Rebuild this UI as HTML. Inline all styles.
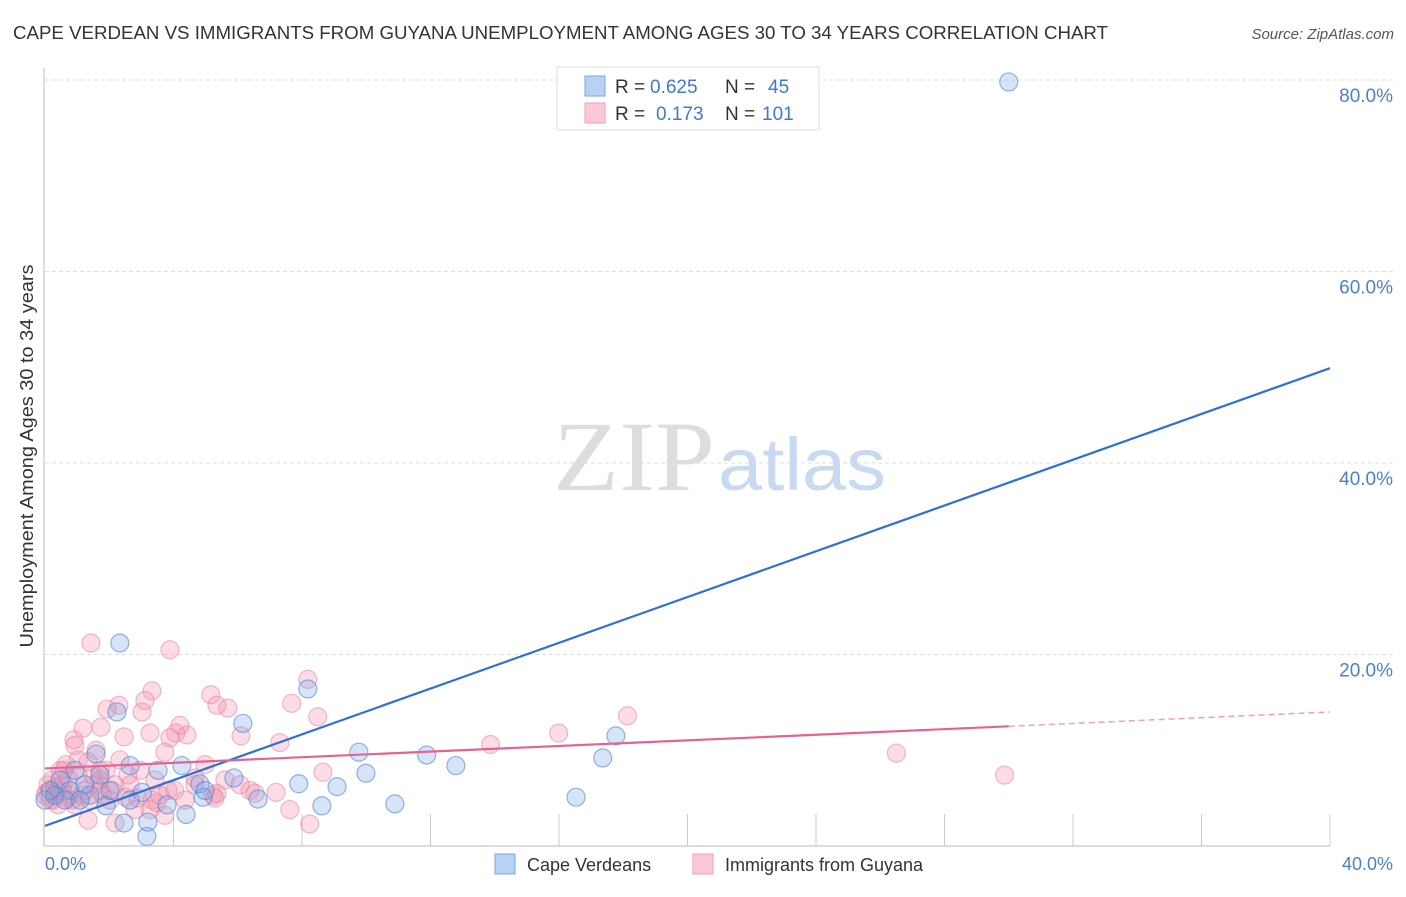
<!DOCTYPE html>
<html><head><meta charset="utf-8"><style>
body{margin:0;background:#fff;font-family:"Liberation Sans",sans-serif}
</style></head><body>
<svg width="1406" height="892" xmlns="http://www.w3.org/2000/svg" id="svg">
<text x="13" y="39" font-size="18" fill="#333" textLength="1095" lengthAdjust="spacingAndGlyphs">CAPE VERDEAN VS IMMIGRANTS FROM GUYANA UNEMPLOYMENT AMONG AGES 30 TO 34 YEARS CORRELATION CHART</text>
<text x="1394" y="39" font-size="15" fill="#555" font-style="italic" text-anchor="end">Source: ZipAtlas.com</text>
<text x="553" y="490" font-size="100" fill="#ddd" font-family="Liberation Serif,serif" textLength="162" lengthAdjust="spacingAndGlyphs">ZIP</text>
<text x="718" y="490" font-size="74" fill="#c8daf2" textLength="168" lengthAdjust="spacingAndGlyphs">atlas</text>
<text transform="translate(33,456) rotate(-90)" font-size="18" fill="#333" text-anchor="middle" textLength="383" lengthAdjust="spacingAndGlyphs">Unemployment Among Ages 30 to 34 years</text>
<g id="grid"></g><g id="pts"></g><g id="lines"></g>
<line x1="44" y1="68" x2="44" y2="846" stroke="#bbb"/>
<line x1="44" y1="846" x2="1330" y2="846" stroke="#bbb"/>
<text x="45" y="870" font-size="18" fill="#4a7fd4">0.0%</text>
<text x="1393" y="870" font-size="18" fill="#4a7fd4" text-anchor="end">40.0%</text>
<g>
<rect x="557" y="67" width="262" height="63" fill="#fff" stroke="#ddd"/>
<rect x="585" y="76" width="20" height="20" fill="#b8d2f5" stroke="#7aa6e6"/>
<rect x="585" y="103" width="20" height="20" fill="#fcc8d8" stroke="#f0a0b8"/>
<text x="615" y="93" font-size="19" fill="#333">R =</text>
<text x="650" y="93" font-size="19" fill="#3d78d6">0.625</text>
<text x="725" y="93" font-size="19" fill="#333">N =</text>
<text x="768" y="93" font-size="19" fill="#3d78d6">45</text>
<text x="615" y="120" font-size="19" fill="#333">R =</text>
<text x="656" y="120" font-size="19" fill="#3d78d6">0.173</text>
<text x="725" y="120" font-size="19" fill="#333">N =</text>
<text x="762" y="120" font-size="19" fill="#3d78d6">101</text>
</g>
<g>
<rect x="495" y="854" width="20" height="20" fill="#b8d2f5" stroke="#7aa6e6"/>
<text x="527" y="871" font-size="18" fill="#333">Cape Verdeans</text>
<rect x="693" y="854" width="20" height="20" fill="#fcc8d8" stroke="#f0a0b8"/>
<text x="725" y="871" font-size="18" fill="#333">Immigrants from Guyana</text>
</g>
</svg>
<script>
const yTicks=[20,40,60,80];
const xTicks=[4,8,12,16,20,24,28,32,36,40];
const blueX=[30.0,2.33,8.18,2.24,6.16,17.77,9.77,11.88,17.36,1.59,12.79,4.26,9.99,5.88,3.52,2.65,7.90,9.09,4.82,4.92,6.63,3.02,3.80,16.53,10.89,8.62,1.90,4.39,2.46,3.17,0.47,0.31,0.78,1.24,2.02,0.93,0.16,0.62,1.71,1.40,2.65,4.98,0,1.09,3.2];
const blueY=[79.8,21.2,16.4,14.0,12.8,11.5,9.8,9.5,9.2,9.6,8.4,8.4,7.6,7.1,7.9,8.4,6.5,6.2,6.5,5.1,4.9,5.6,4.3,5.1,4.4,4.2,4.2,3.3,2.4,1.0,6.9,5.3,5.8,6.4,5.8,7.9,5.8,4.8,7.4,5.3,4.8,5.8,4.8,4.8,2.5];
const pinkX=[1.43,3.89,8.18,3.33,5.16,5.69,5.35,3.02,2.30,1.93,3.11,8.49,7.68,18.13,1.18,1.74,2.46,3.27,4.07,4.42,4.20,3.89,3.73,6.10,7.31,15.99,13.87,0.90,1.59,26.5,29.87,8.65,4.98,4.67,3.83,6.38,5.23,5.35,7.19,7.62,8.24,2.18,1.34,3.33,2.89,3.48,2.52,2.09,1.71,1.03,0.72,0.53,0.31,0.16,0.84,1.24,1.56,1.90,2.18,2.58,2.96,0.47,0.65,1.03,1.34,1.71,0.16,0.40,0.78,0,0.09,0.22,1.40,2.02,0.93,2.33,2.65,3.42,3.58,4.04,4.36,4.67,5.60,3.73,0.93,1.49,1.80,1.15,0.56,0.25,0.37,0.68,0.06,0.31,3.27,5.29,6.07,6.54,0.59,1.71,2.80];
const pinkY=[21.2,20.5,17.4,16.2,15.8,14.4,14.7,14.0,14.7,14.3,15.2,13.5,14.9,13.6,12.3,12.4,11.4,11.8,11.8,11.6,12.6,11.3,9.8,11.5,10.8,11.8,10.6,11.1,10.0,9.7,7.4,7.7,8.5,7.1,5.8,5.8,5.3,5.5,5.6,3.8,2.3,2.4,2.7,4.8,5.0,4.5,5.1,5.8,6.9,7.4,7.1,5.8,5.3,5.8,4.8,5.8,6.4,7.9,6.4,7.4,7.9,7.9,8.5,9.0,8.8,7.9,4.8,4.3,5.3,5.3,6.4,6.9,4.8,4.8,4.3,9.0,6.4,6.9,5.3,5.8,4.8,6.4,6.9,3.2,10.5,7.4,5.3,5.3,6.4,4.8,5.8,5.0,5.6,6.1,3.8,5.0,6.4,5.5,7.9,5.8,3.8];
const blueTrend=[0,2.1,40,49.9];
const pinkTrend=[0,8.1,30,12.5,40,14.0];
const NS='http://www.w3.org/2000/svg';
const sx=v=>45+v/40*1285, sy=v=>846-v/20*191.5;
function mk(t,a,p){const e=document.createElementNS(NS,t);for(const k in a)e.setAttribute(k,a[k]);document.getElementById(p).appendChild(e);return e;}
yTicks.forEach(t=>{
 const l=mk('line',{x1:45,x2:1395,y1:sy(t),y2:sy(t),stroke:'#ddd','stroke-dasharray':'4,3'},'grid');
 
 
 const tx=mk('text',{x:1393,y:sy(t)+22,'font-size':19,fill:'#4a7fd4','text-anchor':'end'},'grid');tx.textContent=t.toFixed(1)+'%';
 
 
});
xTicks.forEach(t=>{
 const l=mk('line',{x1:sx(t),x2:sx(t),y1:814,y2:846,stroke:'#ccc'},'grid');
 
 
});
pinkX.forEach((x,i)=>{
 const c=mk('circle',{cx:sx(x),cy:sy(pinkY[i]),r:9,fill:'rgba(245,140,170,0.3)',stroke:'rgba(235,130,160,0.55)','stroke-width':1.2},'pts');
 
 
});
blueX.forEach((x,i)=>{
 const c=mk('circle',{cx:sx(x),cy:sy(blueY[i]),r:9,fill:'rgba(120,165,230,0.3)',stroke:'rgba(80,130,215,0.6)','stroke-width':1.2},'pts');
 
 
});
let b=mk('line',{x1:sx(blueTrend[0]),y1:sy(blueTrend[1]),x2:sx(blueTrend[2]),y2:sy(blueTrend[3]),stroke:'#2f6fd6','stroke-width':2.2},'lines');


let p=mk('line',{x1:sx(pinkTrend[0]),y1:sy(pinkTrend[1]),x2:sx(pinkTrend[2]),y2:sy(pinkTrend[3]),stroke:'#e8628f','stroke-width':2.2},'lines');


let pd=mk('line',{x1:sx(pinkTrend[2]),y1:sy(pinkTrend[3]),x2:sx(pinkTrend[4]),y2:sy(pinkTrend[5]),stroke:'#f0a0b8','stroke-width':1.5,'stroke-dasharray':'6,4'},'lines');


</script>
</body></html>
